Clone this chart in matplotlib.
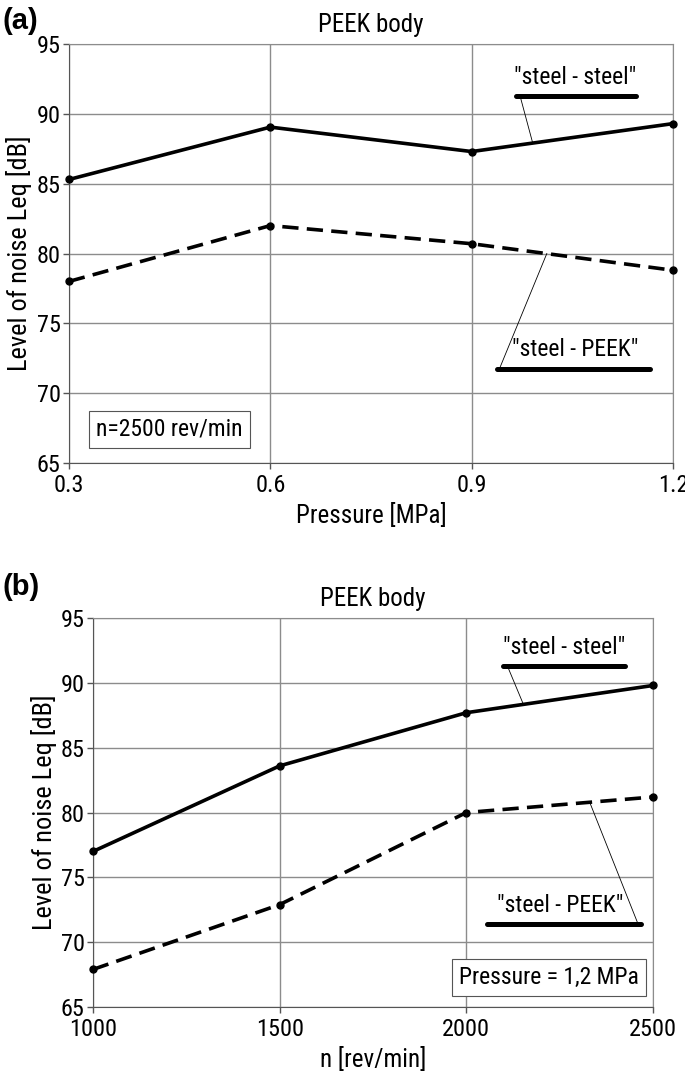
import matplotlib
matplotlib.use("Agg")
import matplotlib.pyplot as plt

plt.rcParams['font.family'] = ['Liberation Sans Narrow', 'Roboto Condensed',
                               'Archivo Narrow', 'Liberation Sans', 'DejaVu Sans']

# panel (a): noise vs pressure at n = 2500 rev/min
pressure = [0.3, 0.6, 0.9, 1.2]
a_steel_steel = [85.3, 89.05, 87.3, 89.3]
a_steel_peek = [78.0, 82.0, 80.7, 78.8]

# panel (b): noise vs rotational speed at 1.2 MPa
speed = [1000, 1500, 2000, 2500]
b_steel_steel = [77.0, 83.6, 87.7, 89.8]
b_steel_peek = [67.9, 72.9, 80.0, 81.2]

y_ticks = [65, 70, 75, 80, 85, 90, 95]
grid_c = '#8c8c8c'


def style_axes(ax, xticks, xlabels):
    ax.set_ylim(65, 95)
    ax.set_yticks(y_ticks)
    ax.set_xticks(xticks)
    ax.set_xticklabels(xlabels)
    ax.set_xlim(xticks[0], xticks[-1])
    ax.grid(True, color=grid_c, lw=1.0)
    ax.set_axisbelow(True)
    for s in ['top', 'right']:
        ax.spines[s].set_color(grid_c)
    for s in ['left', 'bottom']:
        ax.spines[s].set_color('#555555')
    ax.tick_params(labelsize=17.5, length=4, width=1, color='#555555')
    ax.tick_params(axis='x', pad=4)
    ax.tick_params(axis='y', pad=2)
    ax.set_ylabel('Level of noise Leq [dB]', fontsize=19, labelpad=3)
    ax.set_title('PEEK body', fontsize=18, pad=9)


def draw_series(ax, x, y1, y2):
    ax.plot(x, y1, color='black', lw=2.6, marker='o', ms=5, clip_on=False, zorder=3)
    ax.plot(x, y2, color='black', lw=2.6, marker='o', ms=5, dashes=(4.5, 2.3),
            clip_on=False, zorder=3)


def tag(ax, text, tx, ty, ux0, ux1, uy, lx, px, py):
    ax.text(tx, ty, text, fontsize=17, ha='center', va='center')
    ax.plot([ux0, ux1], [uy, uy], color='black', lw=3.6, solid_capstyle='round', zorder=4)
    ax.plot([lx, px], [uy, py], color='black', lw=0.6, zorder=4)


fig = plt.figure(figsize=(6.85, 10.76), dpi=100)

ax1 = fig.add_axes([0.1007, 0.5697, 0.8818, 0.3894])
draw_series(ax1, pressure, a_steel_steel, a_steel_peek)
style_axes(ax1, pressure, ['0.3', '0.6', '0.9', '1.2'])
ax1.set_xlabel('Pressure [MPa]', fontsize=18, labelpad=4)
tag(ax1, '"steel - steel"', 1.054, 92.6, 0.966, 1.145, 91.3, 0.972, 0.991, 87.9)
tag(ax1, '"steel - PEEK"', 1.054, 73.1, 0.938, 1.166, 71.7, 0.941, 1.012, 80.0)
ax1.text(0.45, 67.4, 'n=2500 rev/min', fontsize=17, ha='center', va='center',
         bbox=dict(boxstyle='square,pad=0.3', fc='white', ec='#555555', lw=0.8))

ax2 = fig.add_axes([0.1358, 0.0641, 0.8175, 0.3615])
draw_series(ax2, speed, b_steel_steel, b_steel_peek)
style_axes(ax2, speed, ['1000', '1500', '2000', '2500'])
ax2.set_xlabel('n [rev/min]', fontsize=18, labelpad=4)
tag(ax2, '"steel - steel"', 2262, 92.75, 2098, 2425, 91.3, 2110, 2152, 88.4)
tag(ax2, '"steel - PEEK"', 2251, 72.8, 2055, 2468, 71.4, 2460, 2331, 80.75)
ax2.text(2221, 67.3, 'Pressure = 1,2 MPa', fontsize=17, ha='center', va='center',
         bbox=dict(boxstyle='square,pad=0.3', fc='white', ec='#555555', lw=0.8))

fig.text(0.003, 0.973, '(a)', fontsize=21, fontweight='bold',
         family=['Liberation Sans', 'DejaVu Sans'])
fig.text(0.003, 0.447, '(b)', fontsize=21, fontweight='bold',
         family=['Liberation Sans', 'DejaVu Sans'])

fig.savefig('out.png', dpi=100)
